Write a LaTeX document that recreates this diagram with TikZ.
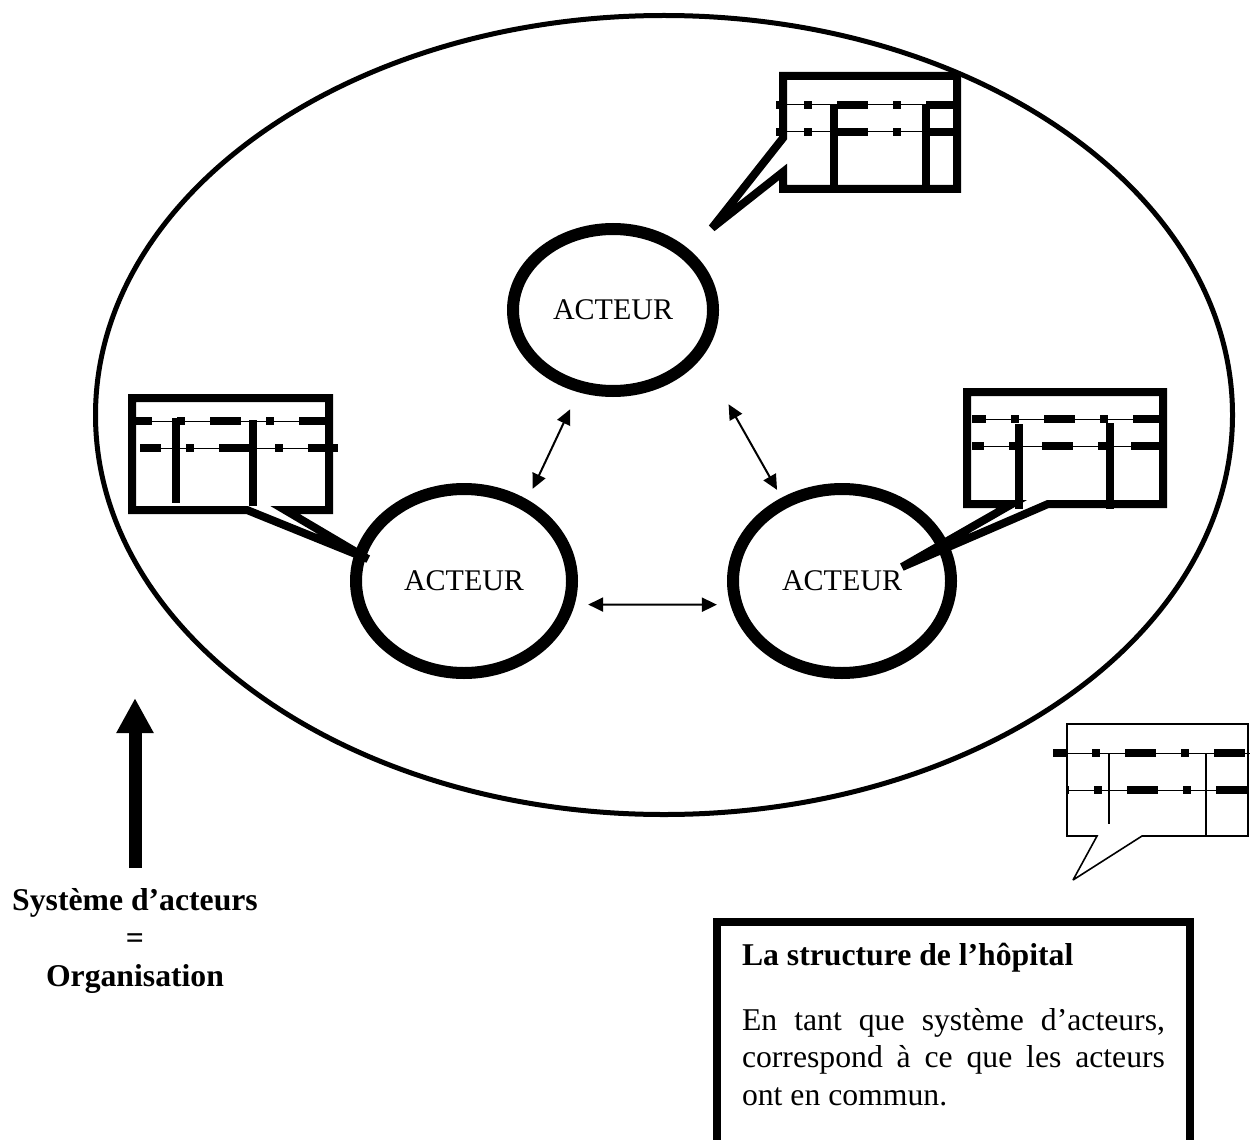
\documentclass[tikz,border=0pt]{standalone}
\usepackage{fontspec}
\setmainfont{Liberation Serif}
\usetikzlibrary{arrows.meta,shapes.geometric}
\setlength{\parindent}{0pt}
\tolerance=9999
\hyphenpenalty=10000
\begin{document}
\begin{tikzpicture}[x=0.5pt,y=-0.5pt,
acteur/.style={ellipse,draw,line width=6pt,inner sep=0pt,font=\fontsize{15}{17}\selectfont},
lien/.style={{Triangle[length=7.5pt,width=7pt]}-{Triangle[length=7.5pt,width=7pt]},line width=1pt},
fleche/.style={-{Triangle[length=17.5pt,width=17.5pt]},line width=6.5pt},
bulle/.style={line width=4pt,line join=miter,miter limit=4},
bullefine/.style={line width=0.8pt,line join=miter,miter limit=4},
trait/.style={line width=0.5pt},
tiret/.style={line width=4pt,dash pattern=on 15.5pt off 12.5pt on 4pt off 12.5pt},
barre/.style={line width=4pt},
barrefine/.style={line width=0.75pt}]
\useasboundingbox (0,0) rectangle (1256,1139);
\node[ellipse,draw,line width=2.5pt,inner sep=0pt,minimum width=568.5pt,minimum height=399.5pt] (orga) at (664,415) {};
\node[acteur,minimum width=100pt,minimum height=81pt] (haut) at (613,310) {ACTEUR};
\node[acteur,minimum width=108pt,minimum height=92pt] (gauche) at (464,581) {ACTEUR};
\node[acteur,minimum width=109pt,minimum height=92pt] (droite) at (842,581) {ACTEUR};
\draw[lien,shorten <=9.5pt,shorten >=6pt] (haut.247) -- (gauche.52);
\draw[lien,shorten <=27pt,shorten >=4.5pt] (haut.332) -- (droite.126);
\draw[lien,shorten <=6.75pt,shorten >=6.75pt] (gauche.348) -- (droite.192);
\draw[bulle] (783,138) -- (783,76) -- (957,76) -- (957,189) -- (783,189) -- (783,172) -- (712,228) -- cycle;
\draw[trait] (776,105) -- (957,105);
\draw[tiret,dash phase=14pt] (776,105) -- (957,105);
\draw[trait] (776,132) -- (957,132);
\draw[tiret,dash phase=14pt] (776,132) -- (957,132);
\draw[barre] (834,105) -- (834,189);
\draw[barre] (926,105) -- (926,189);
\draw[bulle] (247,510) -- (132,510) -- (132,398) -- (329,398) -- (329,510) -- (285,510) -- (368,559) -- cycle;
\draw[trait] (136,421) -- (325,421);
\draw[tiret,dash phase=7.5pt] (136,421) -- (325,421);
\draw[trait] (140,448) -- (338,448);
\draw[tiret,dash phase=5pt] (140,448) -- (338,448);
\draw[barre] (176,418) -- (176,503);
\draw[barre] (253,420) -- (253,506);
\draw[bulle] (1012,504) -- (967,504) -- (967,392) -- (1163,392) -- (1163,504) -- (1048,504) -- (902,567) -- cycle;
\draw[trait] (972,419) -- (1159,419);
\draw[tiret,dash phase=8.5pt] (972,419) -- (1159,419);
\draw[trait] (972,446) -- (1159,446);
\draw[tiret,dash phase=9.5pt] (972,446) -- (1159,446);
\draw[barre] (1019,424) -- (1019,509);
\draw[barre] (1110,423) -- (1110,509);
\draw[bullefine] (1097,836) -- (1067,836) -- (1067,724) -- (1248,724) -- (1248,836) -- (1142,836) -- (1073,880) -- cycle;
\draw[trait] (1053,753) -- (1250,753);
\draw[tiret,dash phase=8.5pt] (1053,753) -- (1250,753);
\draw[trait] (1067,790) -- (1248,790);
\draw[tiret,dash phase=14.5pt] (1067,790) -- (1248,790);
\draw[barrefine] (1109,753) -- (1109,824);
\draw[barrefine] (1206,753) -- (1206,836);
\node[font=\bfseries\fontsize{15.85}{19}\selectfont,align=center,inner sep=0pt] (syslabel) at (135,941) {Système d’acteurs\\=\\Organisation};
\draw[fleche] ([yshift=10pt]syslabel.north) -- ++(0,-170);
\node[draw,line width=4pt,outer sep=0pt,anchor=north west,text width=211.5pt,inner xsep=12.5pt,inner ysep=10.5pt,align=justify,font=\fontsize{15.85}{18.75}\selectfont] (structure) at (717,922) {\textbf{La structure de l’hôpital}\par\vspace{13.75pt}En tant que système d’acteurs, correspond à ce que les acteurs ont en commun.\par\rule{0pt}{40pt}};
\end{tikzpicture}
\end{document}
